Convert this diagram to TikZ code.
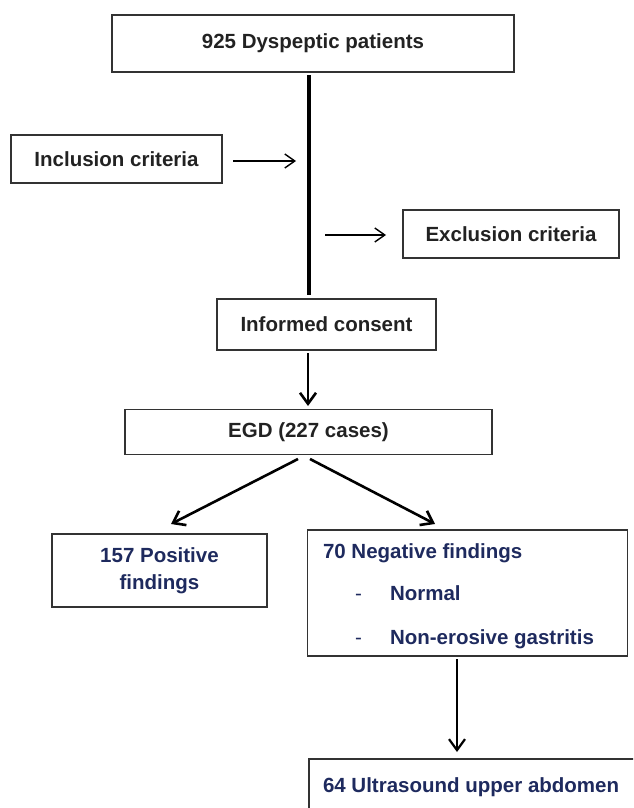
\documentclass[tikz,border=0pt]{standalone}
\usepackage{fontspec}
\setmainfont{Liberation Sans}
\usetikzlibrary{arrows.meta}
\definecolor{navy}{HTML}{1E2A5E}
\definecolor{darktxt}{HTML}{222222}
\definecolor{boxline}{HTML}{333333}
\begin{document}
\begin{tikzpicture}[x=1pt,y=-1pt,
  box/.style={draw=boxline,line width=1.3pt,inner sep=0pt,outer sep=0pt,
    font=\fontsize{20.5pt}{27pt}\selectfont\bfseries,text=darktxt},
  navybox/.style={box,text=navy},
  txt/.style={inner sep=0pt,outer sep=0pt,anchor=base west,
    font=\fontsize{20.5pt}{27pt}\selectfont\bfseries,text=navy},
  dashtxt/.style={inner sep=0pt,outer sep=0pt,anchor=base west,
    font=\fontsize{20.5pt}{27pt}\selectfont,text=navy},
  arr/.style={line width=2.6pt,-{Straight Barb[length=11pt,width=16pt,line width=2.6pt]}},
  thinarr/.style={line width=1.4pt,-{Straight Barb[length=10pt,width=14pt,line width=1.4pt]}}]
\useasboundingbox (0,0) rectangle (633,808);
\clip (0,0) rectangle (633,808);

\node[box,minimum width=402pt,minimum height=57pt] (top) at (313,43.5) {925 Dyspeptic patients};
\node[box,minimum width=211pt,minimum height=48pt] (inc) at (116.5,159) {Inclusion criteria};
\node[box,minimum width=216pt,minimum height=48pt] (exc) at (511,234) {Exclusion criteria};
\node[box,minimum width=219pt,minimum height=51pt] (cons) at (326.5,324.5) {Informed consent};
\node[box,minimum width=367pt,minimum height=45pt] (egd) at (308.5,432) {EGD (227 cases)};
\node[navybox,minimum width=215pt,minimum height=73pt,align=center] (pos) at (159.5,570.5) {157 Positive\\findings};
\node[navybox,minimum width=320pt,minimum height=126pt] (neg) at (467.5,593) {};
\node[txt] (negt) at (323,558) {70 Negative findings};
\node[dashtxt] (d1) at (355,600) {-};
\node[txt] (n1) at (390,600) {Normal};
\node[dashtxt] (d2) at (355,644) {-};
\node[txt] (n2) at (390,644) {Non-erosive gastritis};
\node[navybox,anchor=north west,minimum width=340pt,minimum height=70pt] (us) at (309,759) {};
\node[txt] (ust) at (323,792) {64 Ultrasound upper abdomen};

% main trunk
\coordinate (v1) at (309,75);
\coordinate (v2) at (309,295);
\draw[line width=3.2pt] (v1) -- (v2);
\coordinate (ia) at (233,161);
\coordinate (ib) at (296,161);
\draw[thinarr] (ia) -- (ib);
\coordinate (ea) at (325,235);
\coordinate (eb) at (386,235);
\draw[thinarr] (ea) -- (eb);

\coordinate (c1) at (308,353);
\coordinate (c2) at (308,406);
\draw[arr] (c1) -- (c2);

\coordinate (g1) at (298,459);
\coordinate (g2) at (171,524);
\draw[arr] (g1) -- (g2);
\coordinate (g3) at (310,459);
\coordinate (g4) at (435,524);
\draw[arr] (g3) -- (g4);

\coordinate (u1) at (457,659);
\coordinate (u2) at (457,752);
\draw[line width=2.2pt,-{Straight Barb[length=11pt,width=16pt,line width=2.2pt]}] (u1) -- (u2);
\end{tikzpicture}
\end{document}
